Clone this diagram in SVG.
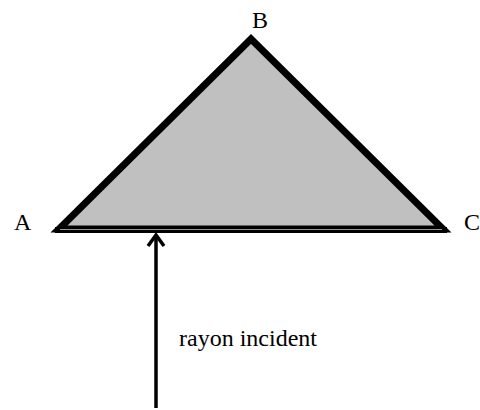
<svg xmlns="http://www.w3.org/2000/svg" width="480" height="410" viewBox="0 0 480 410">
<style>
.lbl{font-family:"Liberation Serif","Times New Roman",serif;font-size:24px;fill:#000}
.ray{stroke:#000;stroke-width:3.5;fill:none}
</style>
<rect width="480" height="410" fill="#fff"/>
<g id="prism">
<polygon points="59,229 251,39 443,229" fill="#c0c0c0" stroke="#000" stroke-width="7" stroke-linejoin="miter"/>
<line x1="55" y1="230" x2="447" y2="230" stroke="#000" stroke-width="6"/>
<line x1="60" y1="229.5" x2="442" y2="229.5" stroke="#fff" stroke-width="1" opacity="0.6"/>
</g>
<g id="labels">
<text class="lbl" x="14" y="230">A</text>
<text class="lbl" x="252" y="28">B</text>
<text class="lbl" x="464" y="230">C</text>
<text class="lbl" x="179" y="346">rayon incident</text>
</g>
<g id="connectors">
<line class="ray" x1="156" y1="408" x2="156" y2="235"/>
<polyline class="ray" points="148,246 156,235 164,246"/>
</g>
</svg>
